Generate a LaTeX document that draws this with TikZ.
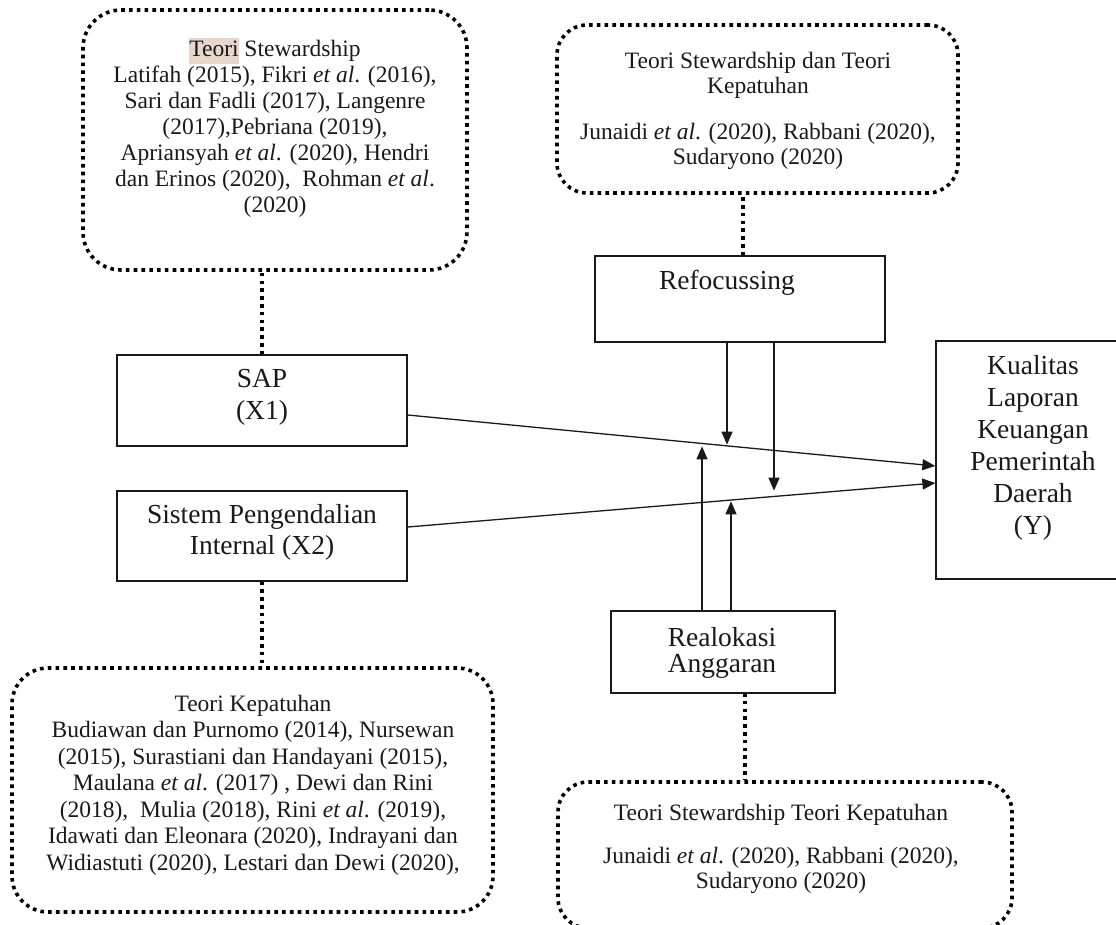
\documentclass[tikz,border=0pt]{standalone}
\usepackage{fontspec}
\setmainfont{Liberation Serif}
\usetikzlibrary{arrows.meta,fit,calc}
\definecolor{hl}{RGB}{230,214,204}
\definecolor{ink}{RGB}{25,25,25}
\begin{document}
\begin{tikzpicture}[x=1pt,y=-1pt,
  sbox/.style={draw=ink, line width=1.3pt, inner sep=0pt},
  dbox/.style={draw=black, line width=3.6pt, dash pattern=on 3.6pt off 4.2pt, inner sep=0pt},
  dline/.style={draw=black, line width=3.6pt, dash pattern=on 3.6pt off 4.2pt},
  arr/.style={draw=ink, line width=1.3pt, -{Triangle[length=13pt,width=11pt]}},
  small/.style={align=center, text=ink, font=\fontsize{23.5}{26}\selectfont, inner sep=0pt},
  big/.style={align=center, text=ink, font=\fontsize{27.5}{31.5}\selectfont, inner sep=0pt}]
\useasboundingbox (0,0) rectangle (1116,925);

% dotted theory boxes
\node[dbox, rounded corners=38pt, fit={(83,10) (467,270)}] (tl) {};
\node[dbox, rounded corners=30pt, fit={(557,25) (958,193)}] (tr) {};
\node[dbox, rounded corners=36pt, fit={(12,668) (493,912)}] (bl) {};
\node[dbox, rounded corners=30pt, fit={(558,782) (1012,928)}] (br) {};

\node[small] (tltext) at (275,128) {{\setlength{\fboxsep}{0pt}\colorbox{hl}{\strut Teori}} Stewardship\\
Latifah (2015), Fikri \textit{et al}. (2016),\\
Sari dan Fadli (2017), Langenre\\
(2017),Pebriana (2019),\\
Apriansyah \textit{et al}. (2020), Hendri\\
dan Erinos (2020),\ \ Rohman \textit{et al}.\\
(2020)};

\node[small, font=\fontsize{23.5}{25}\selectfont] (trtext) at (758,111) {Teori Stewardship dan Teori\\
Kepatuhan\\[21pt]
Junaidi \textit{et al}. (2020), Rabbani (2020),\\
Sudaryono (2020)};

\node[small, font=\fontsize{23.5}{26.5}\selectfont] (bltext) at (253,785) {Teori Kepatuhan\\
Budiawan dan Purnomo (2014), Nursewan\\
(2015), Surastiani dan Handayani (2015),\\
Maulana \textit{et al}. (2017) , Dewi dan Rini\\
(2018),\ \ Mulia (2018), Rini \textit{et al}. (2019),\\
Idawati dan Eleonara (2020), Indrayani dan\\
Widiastuti (2020), Lestari dan Dewi (2020),};

\node[small, font=\fontsize{23.5}{25}\selectfont] (brtext) at (781,849) {Teori Stewardship Teori Kepatuhan\\[18pt]
Junaidi \textit{et al}. (2020), Rabbani (2020),\\
Sudaryono (2020)};

% solid boxes
\node[sbox, fit={(117,355) (407,446)}] (sap) {};
\node[sbox, fit={(117,491) (407,581)}] (sis) {};
\node[sbox, fit={(595,256) (885,342)}] (ref) {};
\node[sbox, fit={(611,611) (835,693)}] (rel) {};
\node[sbox, fit={(936,341) (1130,579)}] (kual) {};

\node[big] (saptext) at (262,397.5) {SAP\\(X1)};
\node[big] (sistext) at (262,532.5) {Sistem Pengendalian\\Internal (X2)};
\node[big] (reftext) at (727,283) {Refocussing};
\node[big, font=\fontsize{27.5}{26.5}\selectfont] (reltext) at (722,653) {Realokasi\\Anggaran};
\node[big, font=\fontsize{27.5}{32}\selectfont] (kualtext) at (1033,447.5) {Kualitas\\Laporan\\Keuangan\\Pemerintah\\Daerah\\(Y)};

% dotted connectors
\draw[dline] (sap.north) -- (sap.north |- tl.south);
\draw[dline] (sis.south) -- (sis.south |- bl.north);
\draw[dline] ([xshift=3pt]ref.north) -- ([xshift=3pt]ref.north |- tr.south);
\coordinate (relb) at (745,693);
\draw[dline] (relb) -- (relb |- br.north);

% main arrows
\draw[arr] ([yshift=-14.5pt]sap.east) -- ([yshift=-6pt]kual.west);
\draw[arr] ([yshift=9pt]sis.east) -- ([yshift=-23pt]kual.west);

% moderating arrows
\draw[arr] ([xshift=-13pt]ref.south) -- ++(0,102);
\draw[arr] ([xshift=34pt]ref.south) -- ++(0,148);
\draw[arr] ([xshift=-21pt]rel.north) -- ++(0,-164);
\draw[arr] ([xshift=8pt]rel.north) -- ++(0,-109);
\end{tikzpicture}
\end{document}
